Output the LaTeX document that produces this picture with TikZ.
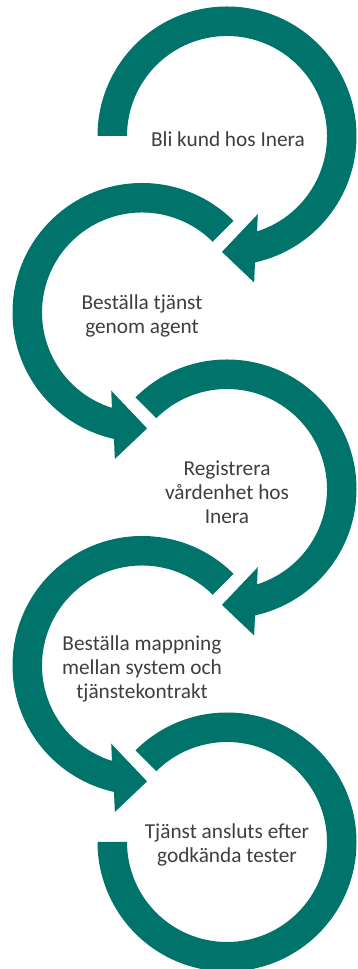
\documentclass[tikz,border=0pt]{standalone}
\usepackage{fontspec}
\setmainfont{Carlito}
\definecolor{teal1}{RGB}{0,115,106}
\definecolor{txt}{RGB}{62,62,62}
\newcommand\Ro{129.5}
\newcommand\Ri{100}
% clockwise band with arrow head, starting at angle #1
\newcommand\cwarrowpath[1]{(#1:\Ro) arc[start angle=#1,end angle=-77.5,radius=\Ro] -- (-79.5:149) -- (-92.5:116) -- (-68.5:84) -- (-72.5:\Ri) arc[start angle=-72.5,end angle=#1,radius=\Ri] -- cycle}
\begin{document}
\begin{tikzpicture}[x=1pt,y=1pt,
  band/.style={fill=teal1,draw=none},
  lbl/.style={text=txt,align=center,font=\fontsize{21.3}{24}\selectfont,inner sep=0pt}]
\useasboundingbox (0,0) rectangle (357,969);
% arrow 1 (right, clockwise)
\begin{scope}[shift={(227,833)}]
  \fill[band] \cwarrowpath{180};
\end{scope}
% arrow 2 (left, counter-clockwise)
\begin{scope}[shift={(142,656.5)},xscale=-1]
  \fill[band] \cwarrowpath{135};
\end{scope}
% arrow 3 (right, clockwise)
\begin{scope}[shift={(227,480)}]
  \fill[band] \cwarrowpath{135};
\end{scope}
% arrow 4 (left, counter-clockwise)
\begin{scope}[shift={(142,303.5)},xscale=-1]
  \fill[band] \cwarrowpath{135};
\end{scope}
% band 5 (right, no head)
\begin{scope}[shift={(227,127)}]
  \fill[band] (135:\Ro) arc[start angle=135,end angle=-180,radius=\Ro] -- (-180:\Ri) arc[start angle=-180,end angle=135,radius=\Ri] -- cycle;
\end{scope}
% labels
\node[lbl] (t1) at (228,830) {Bli kund hos Inera};
\node[lbl] (t2) at (142,653.5) {Beställa tjänst\\genom agent};
\node[lbl] (t3) at (227,477) {Registrera\\vårdenhet hos\\Inera};
\node[lbl] (t4) at (142,300.5) {Beställa mappning\\mellan system och\\tjänstekontrakt};
\node[lbl] (t5) at (227,124) {Tjänst ansluts efter\\godkända tester};
\end{tikzpicture}
\end{document}
